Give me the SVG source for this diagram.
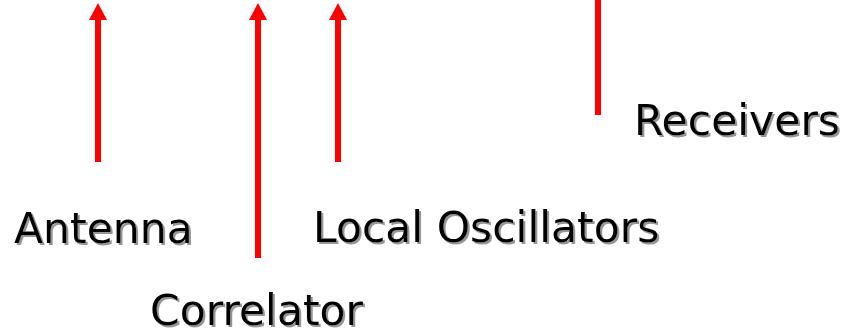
<svg xmlns="http://www.w3.org/2000/svg" width="842" height="334" viewBox="0 0 842 334">
  <style>
    .lbl { font-family: "DejaVu Sans", Verdana, sans-serif; font-size: 42.5px; fill: #000; filter: url(#shadow); }
    .shaft { stroke: #ff0000; stroke-width: 6; fill: none; }
    .head { fill: #ff0000; }
  </style>
  <defs>
    <filter id="shadow" x="-5%" y="-20%" width="115%" height="150%">
      <feDropShadow dx="2" dy="2" stdDeviation="0.6" flood-color="#8a8a8a" flood-opacity="0.9"/>
    </filter>
    <!-- upward arrowhead, tip at origin -->
    <path id="up" d="M0,0 L9,17 L-9,17 Z"/>
  </defs>
  <rect width="842" height="334" fill="#fff"/>

  <g id="connectors">
    <line class="shaft" x1="98" y1="162" x2="98" y2="19"/>
    <use href="#up" class="head" x="98" y="3"/>
    <line class="shaft" x1="258" y1="258" x2="258" y2="19"/>
    <use href="#up" class="head" x="258" y="3"/>
    <line class="shaft" x1="338" y1="162" x2="338" y2="19"/>
    <use href="#up" class="head" x="338" y="3"/>
    <line class="shaft" x1="598" y1="0" x2="598" y2="115"/>
  </g>

  <g id="antenna"><text class="lbl" x="14" y="243">Antenna</text></g>
  <g id="correlator"><text class="lbl" x="150" y="325">Correlator</text></g>
  <g id="local-oscillators"><text class="lbl" x="313" y="242">Local Oscillators</text></g>
  <g id="receivers"><text class="lbl" x="634" y="135">Receivers</text></g>
</svg>
